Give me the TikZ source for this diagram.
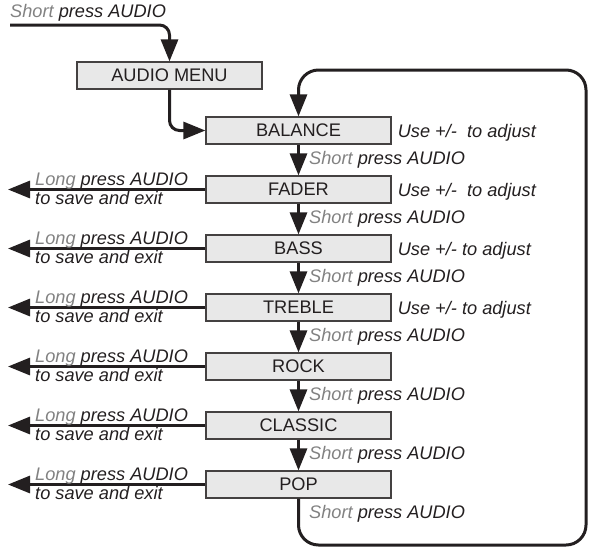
\documentclass[tikz,border=0pt]{standalone}
\usepackage{fontspec}
\setmainfont{Liberation Sans}
\usetikzlibrary{arrows.meta,calc,positioning}
\definecolor{linedark}{RGB}{35,31,32}
\definecolor{boxfill}{RGB}{232,232,232}
\definecolor{hintgray}{RGB}{130,130,130}

\newcommand{\diagramfont}{\fontsize{18.2}{22}\selectfont}
\tikzset{
  menubox/.style={draw=linedark!85, line width=1.2pt, fill=boxfill, text=linedark,
    minimum width=185pt, minimum height=27pt, inner sep=0pt},
  flow/.style={draw=linedark, line width=3pt, rounded corners=10pt,
    -{Triangle[length=22pt,width=17pt]}},
  hint/.style={font=\diagramfont\itshape, text=linedark, inner sep=0pt, anchor=base west},
}
\newcommand{\shortpress}{\textcolor{hintgray}{Short} press AUDIO}
\newcommand{\longpress}{\textcolor{hintgray}{Long} press AUDIO}

\begin{document}
\begin{tikzpicture}[x=1pt,y=-1pt,font=\diagramfont,node distance=30.8pt]
    \useasboundingbox (0,0) rectangle (591,549);

    % menu boxes
    \node[menubox] (menu) at (169.5,75.5) {AUDIO MENU};
    \node[menubox] (balance) at (298.5,130.5) {BALANCE};
    \node[menubox,below=of balance] (fader) {FADER};
    \node[menubox,below=of fader] (bass) {BASS};
    \node[menubox,below=of bass] (treble) {TREBLE};
    \node[menubox,below=of treble] (rock) {ROCK};
    \node[menubox,below=of rock] (classic) {CLASSIC};
    \node[menubox,below=of classic] (pop) {POP};

    % entry
    \coordinate (start) at (10,25);
    \node[hint] (start label) at (10,17) {\shortpress};
    \draw[flow] (start) -| (menu.north);
    \draw[flow] (menu.south) |- (balance.west);

    % steps down the list
    \draw[flow] (balance) -- (fader);
    \draw[flow] (fader) -- (bass);
    \draw[flow] (bass) -- (treble);
    \draw[flow] (treble) -- (rock);
    \draw[flow] (rock) -- (classic);
    \draw[flow] (classic) -- (pop);

    \node[hint] (balance next) at ($(balance.south)+(10.5,20)$) {\shortpress};
    \node[hint] (fader next) at ($(fader.south)+(10.5,20)$) {\shortpress};
    \node[hint] (bass next) at ($(bass.south)+(10.5,20)$) {\shortpress};
    \node[hint] (treble next) at ($(treble.south)+(10.5,20)$) {\shortpress};
    \node[hint] (rock next) at ($(rock.south)+(10.5,20)$) {\shortpress};
    \node[hint] (classic next) at ($(classic.south)+(10.5,20)$) {\shortpress};
    \node[hint] (pop next) at ($(pop.south)+(10.5,20)$) {\shortpress};

    % adjust hints
    \node[hint] (balance adjust) at ($(balance.east)+(6,6.5)$) {Use +/-~ to adjust};
    \node[hint] (fader adjust) at ($(fader.east)+(6,6.5)$) {Use +/-~ to adjust};
    \node[hint] (bass adjust) at ($(bass.east)+(6,6.5)$) {Use +/- to adjust};
    \node[hint] (treble adjust) at ($(treble.east)+(6,6.5)$) {Use +/- to adjust};

    % exits
    \coordinate (exit) at (8,0);
    \foreach \item in {fader,bass,treble,rock,classic,pop} {
      \draw[flow] (\item.west) -- (\item.west -| exit);
      \node[hint] at ($(\item.west -| exit)+(27,-4.5)$) {\longpress};
      \node[hint] at ($(\item.west -| exit)+(27,14.5)$) {to save and exit};
    }

    % loop back to the top
    \coordinate (loop se) at (586,545);
    \coordinate (loop ne) at (586,70);
    \draw[flow,rounded corners=20pt] (pop.south) |- (loop se) -- (loop ne) -| (balance.north);
\end{tikzpicture}
\end{document}
